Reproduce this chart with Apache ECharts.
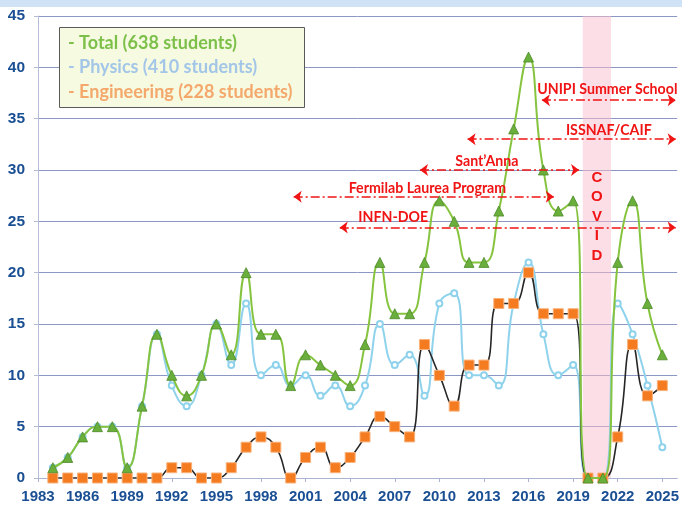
<!DOCTYPE html>
<html>
<head>
<meta charset="utf-8">
<script src="https://cdn.jsdelivr.net/npm/echarts@6/dist/echarts.min.js"></script>
<style>
  html, body { margin: 0; padding: 0; background: #fff; }
  #chart { width: 682px; height: 505px; }
</style>
</head>
<body>
<div id="chart"></div>
<script>
// data
const years = [1984, 1985, 1986, 1987, 1988, 1989, 1990, 1991, 1992, 1993, 1994, 1995, 1996, 1997,
    1998, 1999, 2000, 2001, 2002, 2003, 2004, 2005, 2006, 2007, 2008, 2009, 2010, 2011,
    2012, 2013, 2014, 2015, 2016, 2017, 2018, 2019, 2020, 2021, 2022, 2023, 2024, 2025];
const total = [1, 2, 4, 5, 5, 1, 7, 14, 10, 8, 10, 15, 12, 20,
    14, 14, 9, 12, 11, 10, 9, 13, 21, 16, 16, 21, 27, 25,
    21, 21, 26, 34, 41, 30, 26, 27, 0, 0, 21, 27, 17, 12];
const physics = [1, 2, 4, 5, 5, 1, 7, 14, 9, 7, 10, 15, 11, 17,
    10, 11, 9, 10, 8, 9, 7, 9, 15, 11, 12, 8, 17, 18,
    10, 10, 9, 17, 21, 14, 10, 11, 0, 0, 17, 14, 9, 3];
const engineering = [0, 0, 0, 0, 0, 0, 0, 0, 1, 1, 0, 0, 1, 3,
    4, 3, 0, 2, 3, 1, 2, 4, 6, 5, 4, 13, 10, 7,
    11, 11, 17, 17, 20, 16, 16, 16, 0, 0, 4, 13, 8, 9];

const legendLines = ['- Total (638 students)', '- Physics (410 students)', '- Engineering (228 students)'];

// programmes: [label, from, to, level]
const programs = [
    ['UNIPI Summer School', 2016.9, 2025.9, 36.8],
    ['ISSNAF/CAIF', 2011.9, 2025.9, 33.0],
    ['Sant\u2019Anna', 2008.7, 2019.4, 30.0],
    ['Fermilab Laurea Program', 2000.2, 2017.7, 27.4],
    ['INFN-DOE', 2003.3, 2025.9, 24.4]
];
// label anchors for the programmes
const programLabels = [
    ['UNIPI Summer School', 2021.3, 37.8],
    ['ISSNAF/CAIF', 2021.4, 33.9],
    ['Sant\u2019Anna', 2013.2, 30.85],
    ['Fermilab Laurea Program', 2009.2, 28.2],
    ['INFN-DOE', 2006.9, 25.4]
];
const covidFrom = 2019.65;
const covidTo = 2021.55;

function pairs(arr) {
    return years.map(function (y, i) { return [y, arr[i]]; });
}

const chart = echarts.init(document.getElementById('chart'));

const redText = {
    color: '#f01414',
    fontFamily: 'Lato',
    fontWeight: 'bold',
    fontSize: 14.2
};

const option = {
    animation: false,
    grid: { left: 38, right: 0, top: 16, bottom: 27 },
    xAxis: {
        type: 'value',
        min: 1983,
        max: 2026,
        interval: 3,
        splitLine: { show: false },
        axisLine: { lineStyle: { color: '#aab3d2', width: 1 } },
        axisTick: { show: true, length: 4, lineStyle: { color: '#aab3d2' } },
        axisLabel: {
            showMaxLabel: false,
            margin: 11,
            color: '#1a4f94',
            fontFamily: 'Liberation Sans',
            fontWeight: 'bold',
            fontSize: 15,
            formatter: function (v) { return String(v); }
        }
    },
    yAxis: {
        type: 'value',
        min: 0,
        max: 45,
        interval: 5,
        axisLine: { show: true, lineStyle: { color: '#b4bcd8' } },
        axisTick: { show: true, length: 4, lineStyle: { color: '#b4bcd8' } },
        splitLine: { lineStyle: { color: '#8c97c3', width: 1 } },
        axisLabel: {
            margin: 13,
            color: '#1a4f94',
            fontFamily: 'Liberation Sans',
            fontWeight: 'bold',
            fontSize: 15.5
        }
    },
    graphic: [
        {
            type: 'rect',
            shape: { x: 0, y: 0, width: 682, height: 7 },
            style: { fill: '#cfe2f6' },
            z: 100
        },
        {
            type: 'rect',
            shape: { x: 59.5, y: 27.5, width: 245, height: 80 },
            style: { fill: '#f5fae1', stroke: '#5a5a5a', lineWidth: 1 },
            z: 100
        },
        {
            type: 'text', x: 68, y: 43, z: 101,
            style: { text: legendLines[0], fill: '#7cc04a', font: 'bold 18px Lato', textVerticalAlign: 'middle' }
        },
        {
            type: 'text', x: 68, y: 67.5, z: 101,
            style: { text: legendLines[1], fill: '#a3c6e8', font: 'bold 18px Lato', textVerticalAlign: 'middle' }
        },
        {
            type: 'text', x: 68, y: 92, z: 101,
            style: { text: legendLines[2], fill: '#f4a86c', font: 'bold 18px Lato', textVerticalAlign: 'middle' }
        }
    ],
    series: [
        {
            name: 'Physics',
            type: 'line',
            data: pairs(physics),
            smooth: 0.5,
            showAllSymbol: true,
            symbol: 'emptyCircle',
            symbolSize: 6,
            lineStyle: { color: '#8fd2ec', width: 2 },
            itemStyle: { color: '#8fd2ec', borderColor: '#8fd2ec', borderWidth: 1.5 },
            z: 2
        },
        {
            name: 'Engineering',
            type: 'line',
            data: pairs(engineering),
            smooth: 0.5,
            showAllSymbol: true,
            symbol: 'rect',
            symbolSize: 10,
            lineStyle: { color: '#262626', width: 1.6 },
            itemStyle: { color: '#f47b20', borderColor: '#f9b27a', borderWidth: 1 },
            z: 3
        },
        {
            name: 'Total',
            type: 'line',
            data: pairs(total),
            smooth: 0.5,
            showAllSymbol: true,
            symbol: 'triangle',
            symbolSize: 10,
            lineStyle: { color: '#86c440', width: 2 },
            itemStyle: { color: '#6aae3c', borderColor: '#4d8a2a', borderWidth: 0.8 },
            z: 4,
            markArea: {
                silent: true,
                itemStyle: { color: 'rgba(250, 190, 208, 0.5)' },
                data: [[{ xAxis: covidFrom }, { xAxis: covidTo }]]
            },
            markLine: {
                silent: true,
                symbol: ['arrow', 'arrow'],
                symbolSize: [9, 8],
                label: { show: false },
                lineStyle: { color: '#f01414', width: 1.5, type: [9, 3, 2, 3] },
                emphasis: { disabled: true },
                data: programs.map(function (p) {
                    return [{ coord: [p[1], p[3]] }, { coord: [p[2], p[3]] }];
                })
            },
            markPoint: {
                silent: true,
                symbol: 'rect',
                symbolSize: 0,
                label: Object.assign({ show: true, position: 'inside', formatter: '{b}' }, redText),
                data: programLabels.map(function (l) {
                    return { name: l[0], coord: [l[1], l[2]] };
                }).concat([{
                    name: 'C\nO\nV\nI\nD',
                    coord: [(covidFrom + covidTo) / 2, 25.46],
                    label: { fontSize: 15, lineHeight: 19.5, fontFamily: 'Liberation Sans' }
                }])
            }
        }
    ]
};

chart.setOption(option);

window.addEventListener('resize', function () {
    chart.resize();
});
</script>
</body>
</html>
